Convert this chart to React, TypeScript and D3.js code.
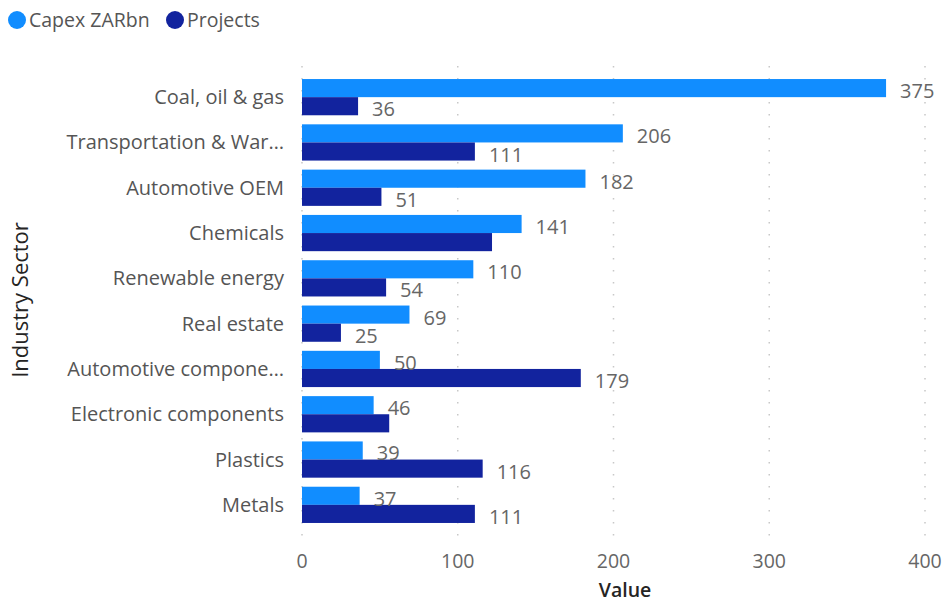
import React from "react";
import * as d3 from "d3";

const categories = [
  "Coal, oil & gas",
  "Transportation & War…",
  "Automotive OEM",
  "Chemicals",
  "Renewable energy",
  "Real estate",
  "Automotive compone…",
  "Electronic components",
  "Plastics",
  "Metals",
];
const capex = [375, 206, 182, 141, 110, 69, 50, 46, 39, 37];
const projects = [36, 111, 51, 122, 54, 25, 179, 56, 116, 111];
// labels hidden in the reference due to overlap
const projectsLabelShown = [true, true, true, false, true, true, true, false, true, true];
const xTicks = [0, 100, 200, 300, 400];
const seriesNames = ["Capex ZARbn", "Projects"];
const seriesColors = ["#118DFF", "#12239E"];

const W = 944;
const H = 604;
const FONT = "'Segoe UI', 'Open Sans', 'Noto Sans', sans-serif";

export default function App() {
  const x = d3.scaleLinear().domain([0, 400]).range([302, 925]);
  const y = d3.scaleBand<string>().domain(categories).range([74.5, 527.5]).paddingInner(0.2).paddingOuter(0.1);
  const sub = d3.scaleBand<string>().domain(seriesNames).range([0, y.bandwidth()]);
  const series = [capex, projects];
  const legendX = [17, 175];

  return (
    <svg width={W} height={H} style={{ position: "absolute", left: 0, top: 0 }} fontFamily={FONT}>
      {/* legend */}
      {seriesNames.map((s, i) => (
        <g key={s}>
          <circle cx={legendX[i]} cy={20} r={9} fill={seriesColors[i]} />
          <text x={legendX[i] + 12} y={27} fontSize={19.5} fill="#555">{s}</text>
        </g>
      ))}
      {/* gridlines */}
      {xTicks.map((t) => (
        <line key={t} x1={x(t)} x2={x(t)} y1={66} y2={542} stroke="#c8c8c8" strokeWidth={1.5} strokeDasharray="1.5,10.5" />
      ))}
      {/* tick labels */}
      {xTicks.map((t) => (
        <text key={t} x={x(t)} y={568} textAnchor="middle" fontSize={19.5} fill="#666">{t}</text>
      ))}
      <text x={625} y={597} textAnchor="middle" fontSize={19.5} fontWeight={600} fill="#252423">Value</text>
      <text transform={`translate(28,${300}) rotate(-90)`} textAnchor="middle" fontSize={22} fontWeight={500} fill="#252423">Industry Sector</text>
      {/* category labels */}
      {categories.map((c) => (
        <text key={c} x={284} y={(y(c) as number) + y.bandwidth() / 2 + 7} textAnchor="end" fontSize={20} fill="#555">{c}</text>
      ))}
      {/* bars */}
      {categories.map((c, ci) => (
        <g key={c}>
          {series.map((vals, si) => {
            const by = (y(c) as number) + (sub(seriesNames[si]) as number);
            return (
              <rect key={si} x={x(0)} y={by} width={x(vals[ci]) - x(0)} height={sub.bandwidth()} fill={seriesColors[si]} />
            );
          })}
        </g>
      ))}
      {/* data labels */}
      {categories.map((c, ci) => (
        <g key={c}>
          {series.map((vals, si) => {
            if (si === 1 && !projectsLabelShown[ci]) return null;
            const by = (y(c) as number) + (sub(seriesNames[si]) as number);
            return (
              <text key={si} x={x(vals[ci]) + 14} y={by + sub.bandwidth() / 2 + 10} fontSize={20} fill="#666">{vals[ci]}</text>
            );
          })}
        </g>
      ))}
    </svg>
  );
}
